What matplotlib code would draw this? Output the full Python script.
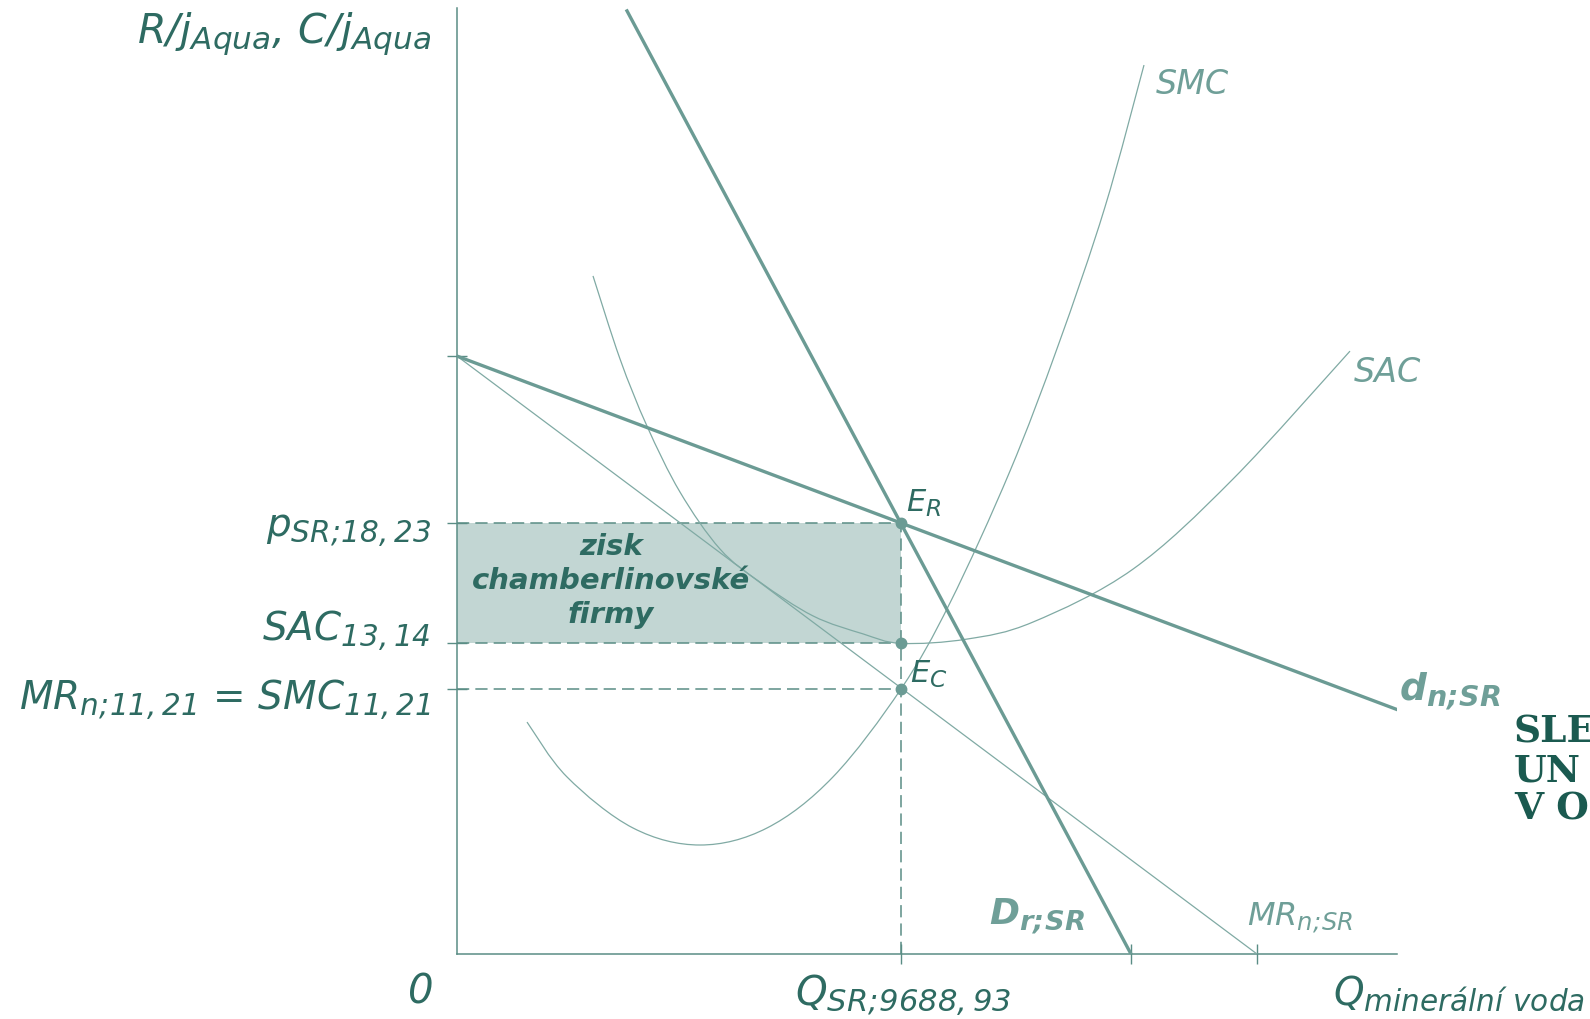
import matplotlib
matplotlib.use('Agg')
import matplotlib.pyplot as plt
import matplotlib._mathtext as mathtext_internals
from matplotlib.path import Path
from matplotlib.patches import PathPatch

plt.rcParams['font.family'] = ['DejaVu Sans']
plt.rcParams['mathtext.fontset'] = 'custom'
plt.rcParams['mathtext.rm'] = 'DejaVu Sans:italic'
plt.rcParams['mathtext.it'] = 'DejaVu Sans:italic'
plt.rcParams['mathtext.bf'] = 'DejaVu Sans:italic:bold'
# subscripts in the original are larger than mathtext's default 0.7
if hasattr(mathtext_internals, 'SHRINK_FACTOR'):
    mathtext_internals.SHRINK_FACTOR = 0.76

# equilibrium of the chamberlin firm
q_star = 9688.93
p_star = 18.23
sac_star = 13.14
mr_star = 11.21

q_max = 20513
p_max = 40.0

# individual demand d_n;SR
d_q = [0, 20513]
d_p = [25.29, 10.34]

# marginal revenue MR_n;SR
mr_q = [0, 17458]
mr_p = [25.29, 0]

# market demand D_r;SR
dr_q = [3710, 14708]
dr_p = [39.89, 0]

# short run marginal cost
smc_q = [1528, 2400, 3841, 5303, 6765, 8205, 9689, 10758, 12068, 13115, 14141, 14992]
smc_p = [9.81, 7.49, 5.33, 4.61, 5.33, 7.49, 11.21, 14.85, 20.43, 25.72, 31.60, 37.60]

# short run average cost
sac_q = [2968, 3557, 4146, 4866, 5739, 6612, 7769, 8860, 9689,
         11129, 12569, 14752, 16934, 19487]
sac_p = [28.68, 25.17, 22.33, 19.54, 17.13, 15.73, 14.30, 13.54, 13.14,
         13.32, 14.04, 16.28, 20.09, 25.50]

dark = '#2e6b62'
light = '#6f9f98'
axis_col = '#5a8d85'
thick_col = '#6b9b94'
thin_col = '#80aaa4'
fill_col = '#c2d6d3'

W, H = 1590, 1020


def fpos(x, y):
    return x / W, 1 - y / H


def smooth_path(xs, ys):
    # draw the read points as one smooth bezier curve (catmull-rom)
    pts = list(zip(xs, ys))
    n = len(pts)
    verts = [pts[0]]
    codes = [Path.MOVETO]
    for i in range(n - 1):
        p0 = pts[max(i - 1, 0)]
        p1 = pts[i]
        p2 = pts[i + 1]
        p3 = pts[min(i + 2, n - 1)]
        c1 = (p1[0] + (p2[0] - p0[0]) / 6, p1[1] + (p2[1] - p0[1]) / 6)
        c2 = (p2[0] - (p3[0] - p1[0]) / 6, p2[1] - (p3[1] - p1[1]) / 6)
        verts += [c1, c2, p2]
        codes += [Path.CURVE4] * 3
    return Path(verts, codes)


fig = plt.figure(figsize=(15.9, 10.2), dpi=100)
ax = fig.add_axes([457 / W, 65 / H, 940 / W, 945.7 / H])
ax.set_xlim(0, q_max)
ax.set_ylim(0, p_max)

for s in ['top', 'right']:
    ax.spines[s].set_visible(False)
for s in ['left', 'bottom']:
    ax.spines[s].set_color(axis_col)
    ax.spines[s].set_linewidth(1.1)

ax.set_xticks([q_star, dr_q[1], mr_q[1]])
ax.set_xticklabels([])
ax.set_yticks([d_p[0], p_star, sac_star, mr_star])
ax.set_yticklabels([])
ax.tick_params(direction='inout', length=14, width=1, color=axis_col)

# profit area
ax.fill_between([0, q_star], sac_star, p_star, color=fill_col, lw=0, zorder=1)

dash = (0, (8, 4))
for lvl in [p_star, sac_star, mr_star]:
    ax.plot([0, q_star], [lvl, lvl], color=axis_col, lw=1.1, ls=dash, zorder=2)
ax.plot([q_star, q_star], [0, p_star], color=axis_col, lw=1.1, ls=dash, zorder=2)

ax.add_patch(PathPatch(smooth_path(smc_q, smc_p), fill=False, edgecolor=thin_col, lw=0.9, zorder=3))
ax.add_patch(PathPatch(smooth_path(sac_q, sac_p), fill=False, edgecolor=thin_col, lw=0.9, zorder=3))
ax.plot(mr_q, mr_p, color=thin_col, lw=0.9, zorder=3)
ax.plot(d_q, d_p, color=thick_col, lw=2.4, zorder=4)
ax.plot(dr_q, dr_p, color=thick_col, lw=2.4, zorder=4)

ax.plot([q_star] * 3, [p_star, sac_star, mr_star], 'o', ms=7.5, color=thick_col, zorder=5)

# axis labels
fig.text(*fpos(431, 43), r'$R/j_{Aqua}$, $C/j_{Aqua}$', ha='right', va='baseline',
         fontsize=29.5, color=dark, style='italic')
fig.text(*fpos(431, 537), r'$p_{SR;\!18,23}$', ha='right', va='baseline', fontsize=28, color=dark)
fig.text(*fpos(431, 641), r'$SAC_{13,14}$', ha='right', va='baseline', fontsize=28, color=dark)
fig.text(*fpos(431, 710), r'$MR_{n;\!11,21}$ = $SMC_{11,21}$', ha='right', va='baseline',
         fontsize=28, color=dark, style='italic')
fig.text(*fpos(421, 1004), '0', ha='center', va='baseline', fontsize=29, color=dark, style='italic')
fig.text(*fpos(903, 1005), r'$Q_{SR;\!9688,93}$', ha='center', va='baseline', fontsize=29, color=dark)
fig.text(*fpos(1333, 1005), r'$Q_{minerální\ voda}$', ha='left', va='baseline', fontsize=28, color=dark)

# curve labels
fig.text(*fpos(1156, 94), 'SMC', fontsize=24, color=light, style='italic', va='baseline')
fig.text(*fpos(1354, 382), 'SAC', fontsize=24, color=light, style='italic', va='baseline')
fig.text(*fpos(906, 512), r'$E_R$', fontsize=22, color=dark, va='baseline')
fig.text(*fpos(910, 683), r'$E_C$', fontsize=22, color=dark, va='baseline')
fig.text(*fpos(1399, 700), r'$\mathbf{d_{n;\!SR}}$', fontsize=27, color=light, va='baseline')
fig.text(*fpos(989, 925), r'$\mathbf{D_{r;\!SR}}$', fontsize=26, color=light, va='baseline')
fig.text(*fpos(1247, 925), r'$MR_{n;\!SR}$', fontsize=23, color=light, va='baseline')

fig.text(*fpos(611, 581), 'zisk\nchamberlinovské\nfirmy', ha='center', va='center',
         fontsize=21, weight='bold', style='italic', color=dark, linespacing=1.28)

# university logo, cut by the right edge as in the original slide
for txt, yb in [('SLE', 743), ('UN', 781), ('V O', 819)]:
    fig.text(*fpos(1514, yb), txt, family='DejaVu Serif', weight='bold', fontsize=27,
             color='#1b5a50', va='baseline')

fig.savefig('out.png', dpi=100)
